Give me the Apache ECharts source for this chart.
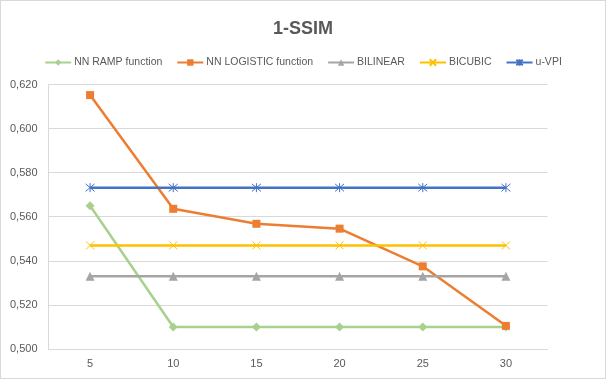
<!DOCTYPE html>
<html>
<head>
<meta charset="utf-8">
<style>
  html, body { margin: 0; padding: 0; background: #fff; }
  #chart { width: 606px; height: 379px; box-sizing: border-box; border: 1px solid #d9d9d9; }
</style>
<script src="https://cdn.jsdelivr.net/npm/echarts@6/dist/echarts.min.js"></script>
</head>
<body>
<div id="chart"></div>
<script>
// x categories and series values
const categories = ['5', '10', '15', '20', '25', '30']
const nnRamp = [0.565, 0.510, 0.510, 0.510, 0.510, 0.510]
const nnLogistic = [0.6152, 0.5636, 0.5568, 0.5546, 0.5375, 0.5105]
const bilinear = [0.533, 0.533, 0.533, 0.533, 0.533, 0.533]
const bicubic = [0.547, 0.547, 0.547, 0.547, 0.547, 0.547]
const uVpi = [0.5732, 0.5732, 0.5732, 0.5732, 0.5732, 0.5732]

const textColor = '#595959'
const gridColor = '#d9d9d9'
const font = 'Liberation Sans'

// x and asterisk markers drawn as stroked paths
const crossPath = 'path://M0,0L10,10M10,0L0,10'
const starPath = 'path://M0,0L10,10M10,0L0,10M5,-1L5,11'

function makeSeries(name, data, color, symbol, size) {
  const stroked = symbol.indexOf('path://') === 0
  return {
    name: name,
    type: 'line',
    data: data,
    symbol: symbol,
    symbolSize: size,
    showAllSymbol: true,
    lineStyle: { color: color, width: 2.5 },
    itemStyle: stroked
      ? { color: 'rgba(0,0,0,0)', borderColor: color, borderWidth: 1 }
      : { color: color, borderWidth: 0 },
    emphasis: { disabled: true },
    animation: false
  }
}

const chart = echarts.init(document.getElementById('chart'))
const option = {
  backgroundColor: '#fff',
  title: {
    text: '1-SSIM',
    left: 'center',
    top: 14,
    textStyle: { fontFamily: font, fontSize: 18, fontWeight: 'bold', color: textColor }
  },
  legend: {
    top: 51,
    left: 'center',
    itemWidth: 26,
    itemHeight: 8,
    itemGap: 14,
    textStyle: { fontFamily: font, fontSize: 10.5, color: textColor, padding: [0, 0, 0, -2] },
    data: ['NN RAMP function', 'NN LOGISTIC function', 'BILINEAR', 'BICUBIC', 'u-VPI']
  },
  grid: { left: 47.5, right: 57.5, top: 83.5, bottom: 29, containLabel: false },
  xAxis: {
    type: 'category',
    data: categories,
    boundaryGap: true,
    axisLine: { lineStyle: { color: gridColor, width: 1 } },
    axisTick: { show: false },
    axisLabel: { fontFamily: font, fontSize: 11, color: textColor, margin: 9 }
  },
  yAxis: {
    type: 'value',
    min: 0.5,
    max: 0.62,
    interval: 0.02,
    axisLine: { show: true, lineStyle: { color: gridColor, width: 1 } },
    axisTick: { show: false },
    splitLine: { lineStyle: { color: gridColor, width: 1 } },
    axisLabel: {
      fontFamily: font, fontSize: 11, color: textColor, margin: 11,
      formatter: v => v.toFixed(3).replace('.', ',')
    }
  },
  series: [
    makeSeries('NN RAMP function', nnRamp, '#a9d18e', 'diamond', 9),
    makeSeries('NN LOGISTIC function', nnLogistic, '#ed7d31', 'rect', 8),
    makeSeries('BILINEAR', bilinear, '#a5a5a5', 'triangle', 9),
    makeSeries('BICUBIC', bicubic, '#ffc000', crossPath, 8),
    makeSeries('u-VPI', uVpi, '#4472c4', starPath, 9)
  ]
}
chart.setOption(option)
</script>
</body>
</html>
